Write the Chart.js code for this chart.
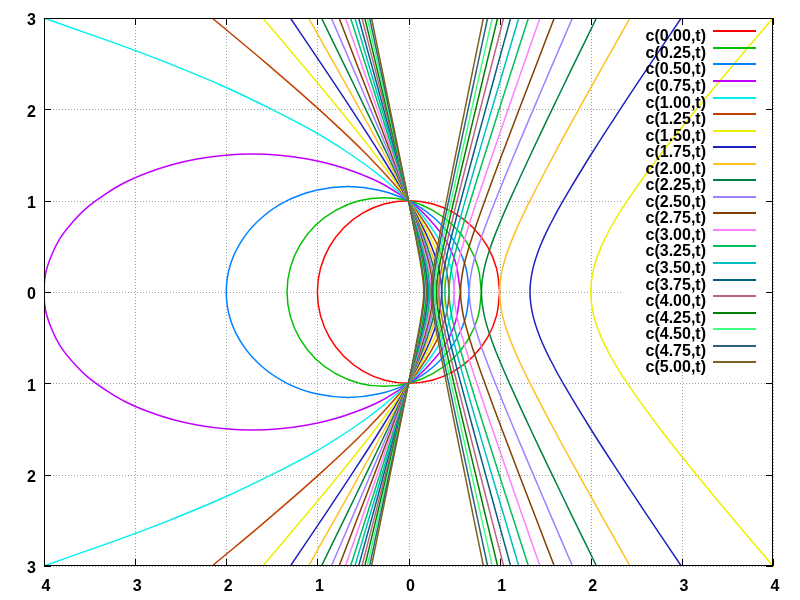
<!DOCTYPE html>
<html>
<head>
<meta charset="utf-8">
<script src="https://cdn.jsdelivr.net/npm/chart.js@4"></script>
<style>
  body { margin: 0; background: #fff; }
  canvas { display: block; }
</style>
</head>
<body>
<canvas id="chart" width="800" height="600"></canvas>
<script>
// parameter of each curve c(a,t), as listed in the key
const params = [0, 0.25, 0.5, 0.75, 1, 1.25, 1.5, 1.75, 2, 2.25, 2.5, 2.75, 3, 3.25, 3.5, 3.75, 4, 4.25, 4.5, 4.75, 5];

const xTicks = [-4, -3, -2, -1, 0, 1, 2, 3, 4];
const yTicks = [-3, -2, -1, 0, 1, 2, 3];

// closed curves (a < 1), [x, y] points read around each loop
const loop000 = [[1,0],[0.966,0.259],[0.866,0.5],[0.707,0.707],[0.5,0.866],[0.259,0.966],[0,1],[-0.259,0.966],[-0.5,0.866],[-0.707,0.707],[-0.866,0.5],[-0.966,0.259],[-1,0],
  [-0.966,-0.259],[-0.866,-0.5],[-0.707,-0.707],[-0.5,-0.866],[-0.259,-0.966],[0,-1],[0.259,-0.966],[0.5,-0.866],[0.707,-0.707],[0.866,-0.5],[0.966,-0.259],[1,0]];
const loop025 = [[0.8,0],[0.764,0.267],[0.657,0.516],[0.488,0.73],[0.267,0.894],[0.009,0.998],[-0.267,1.033],[-0.543,0.998],[-0.8,0.894],[-1.021,0.73],[-1.19,0.516],[-1.297,0.267],[-1.333,0],
  [-1.297,-0.267],[-1.19,-0.516],[-1.021,-0.73],[-0.8,-0.894],[-0.543,-0.998],[-0.267,-1.033],[0.009,-0.998],[0.267,-0.894],[0.488,-0.73],[0.657,-0.516],[0.764,-0.267],[0.8,0]];
const loop050 = [[0.667,0],[0.621,0.299],[0.488,0.577],[0.276,0.816],[0,1],[-0.322,1.115],[-0.667,1.155],[-1.012,1.115],[-1.333,1],[-1.609,0.816],[-1.821,0.577],[-1.955,0.299],[-2,0],
  [-1.955,-0.299],[-1.821,-0.577],[-1.609,-0.816],[-1.333,-1],[-1.012,-1.115],[-0.667,-1.155],[-0.322,-1.115],[0,-1],[0.276,-0.816],[0.488,-0.577],[0.621,-0.299],[0.667,0]];
const loop075 = [[0.571,0],[0.494,0.391],[0.265,0.756],[-0.098,1.069],[-0.571,1.309],[-1.123,1.46],[-1.714,1.512],[-2.306,1.46],[-2.857,1.309],[-3.33,1.069],[-3.694,0.756],[-3.922,0.391],[-4,0],
  [-3.922,-0.391],[-3.694,-0.756],[-3.33,-1.069],[-2.857,-1.309],[-2.306,-1.46],[-1.714,-1.512],[-1.123,-1.46],[-0.571,-1.309],[-0.098,-1.069],[0.265,-0.756],[0.494,-0.391],[0.571,0]];

// open curves (a >= 1): x read at these heights
const ySamples = [3, 2.5, 2, 1.5, 1, 0.75, 0.5, 0.25, 0, -0.25, -0.5, -0.75, -1, -1.5, -2, -2.5, -3];

const arc100 = [-4,-2.625,-1.5,-0.625,0,0.219,0.375,0.469,0.5,0.469,0.375,0.219,0,-0.625,-1.5,-2.625,-4];

// branch through (0,1) and (0,-1)
const near125 = [-2.155,-1.556,-0.983,-0.454,0,0.183,0.324,0.413,0.444,0.413,0.324,0.183,0,-0.454,-0.983,-1.556,-2.155];
const near150 = [-1.6,-1.175,-0.76,-0.362,0,0.156,0.284,0.369,0.4,0.369,0.284,0.156,0,-0.362,-0.76,-1.175,-1.6];
const near175 = [-1.296,-0.959,-0.626,-0.303,0,0.136,0.252,0.333,0.364,0.333,0.252,0.136,0,-0.303,-0.626,-0.959,-1.296];
const near200 = [-1.097,-0.815,-0.535,-0.261,0,0.12,0.226,0.303,0.333,0.303,0.226,0.12,0,-0.261,-0.535,-0.815,-1.097];
const near225 = [-0.955,-0.711,-0.469,-0.23,0,0.108,0.204,0.278,0.308,0.278,0.204,0.108,0,-0.23,-0.469,-0.711,-0.955];
const near250 = [-0.847,-0.631,-0.417,-0.206,0,0.098,0.187,0.257,0.286,0.257,0.187,0.098,0,-0.206,-0.417,-0.631,-0.847];
const near275 = [-0.762,-0.569,-0.376,-0.186,0,0.089,0.171,0.238,0.267,0.238,0.171,0.089,0,-0.186,-0.376,-0.569,-0.762];
const near300 = [-0.693,-0.518,-0.343,-0.17,0,0.082,0.159,0.222,0.25,0.222,0.159,0.082,0,-0.17,-0.343,-0.518,-0.693];
const near325 = [-0.636,-0.475,-0.315,-0.156,0,0.076,0.147,0.208,0.235,0.208,0.147,0.076,0,-0.156,-0.315,-0.475,-0.636];
const near350 = [-0.588,-0.44,-0.292,-0.145,0,0.071,0.138,0.195,0.222,0.195,0.138,0.071,0,-0.145,-0.292,-0.44,-0.588];
const near375 = [-0.547,-0.409,-0.272,-0.135,0,0.066,0.129,0.184,0.211,0.184,0.129,0.066,0,-0.135,-0.272,-0.409,-0.547];
const near400 = [-0.511,-0.382,-0.254,-0.126,0,0.062,0.121,0.174,0.2,0.174,0.121,0.062,0,-0.126,-0.254,-0.382,-0.511];
const near425 = [-0.48,-0.359,-0.239,-0.119,0,0.058,0.115,0.165,0.19,0.165,0.115,0.058,0,-0.119,-0.239,-0.359,-0.48];
const near450 = [-0.452,-0.338,-0.225,-0.112,0,0.055,0.109,0.157,0.182,0.157,0.109,0.055,0,-0.112,-0.225,-0.338,-0.452];
const near475 = [-0.427,-0.32,-0.213,-0.106,0,0.052,0.103,0.149,0.174,0.149,0.103,0.052,0,-0.106,-0.213,-0.32,-0.427];
const near500 = [-0.406,-0.304,-0.202,-0.101,0,0.05,0.098,0.142,0.167,0.142,0.098,0.05,0,-0.101,-0.202,-0.304,-0.406];

// branch opening to the right
const far150 = [4,3.575,3.16,2.762,2.4,2.244,2.117,2.031,2,2.031,2.117,2.244,2.4,2.762,3.16,3.575,4];
const far175 = [2.993,2.656,2.323,2,1.697,1.561,1.445,1.364,1.333,1.364,1.445,1.561,1.697,2,2.323,2.656,2.993];
const far200 = [2.431,2.148,1.869,1.595,1.333,1.213,1.108,1.03,1,1.03,1.108,1.213,1.333,1.595,1.869,2.148,2.431];
const far225 = [2.063,1.818,1.576,1.338,1.108,1,0.903,0.83,0.8,0.83,0.903,1,1.108,1.338,1.576,1.818,2.063];
const far250 = [1.799,1.584,1.37,1.158,0.952,0.855,0.766,0.696,0.667,0.696,0.766,0.855,0.952,1.158,1.37,1.584,1.799];
const far275 = [1.6,1.407,1.215,1.024,0.838,0.749,0.667,0.6,0.571,0.6,0.667,0.749,0.838,1.024,1.215,1.407,1.6];
const far300 = [1.443,1.268,1.093,0.92,0.75,0.668,0.592,0.528,0.5,0.528,0.592,0.668,0.75,0.92,1.093,1.268,1.443];
const far325 = [1.316,1.155,0.995,0.836,0.68,0.604,0.532,0.472,0.444,0.472,0.532,0.604,0.68,0.836,0.995,1.155,1.316];
const far350 = [1.21,1.062,0.914,0.767,0.622,0.552,0.485,0.427,0.4,0.427,0.485,0.552,0.622,0.767,0.914,1.062,1.21];
const far375 = [1.121,0.983,0.846,0.709,0.574,0.508,0.445,0.39,0.364,0.39,0.445,0.508,0.574,0.709,0.846,0.983,1.121];
const far400 = [1.044,0.916,0.787,0.66,0.533,0.472,0.412,0.36,0.333,0.36,0.412,0.472,0.533,0.66,0.787,0.916,1.044];
const far425 = [0.978,0.857,0.737,0.617,0.498,0.44,0.384,0.333,0.308,0.333,0.384,0.44,0.498,0.617,0.737,0.857,0.978];
const far450 = [0.92,0.806,0.693,0.58,0.468,0.412,0.359,0.311,0.286,0.311,0.359,0.412,0.468,0.58,0.693,0.806,0.92];
const far475 = [0.868,0.761,0.654,0.547,0.441,0.388,0.338,0.291,0.267,0.291,0.338,0.388,0.441,0.547,0.654,0.761,0.868];
const far500 = [0.822,0.72,0.619,0.517,0.417,0.367,0.319,0.274,0.25,0.274,0.319,0.367,0.417,0.517,0.619,0.72,0.822];

const colors = ['#ff0000','#00c000','#0080ff','#c000ff','#00eeee','#c04000','#eeee00','#2020c0','#ffc020','#008040',
  '#a080ff','#804000','#ff80ff','#00c060','#00c0c0','#006080','#c06080','#008000','#40ff80','#306080','#806020'];

function pairs(list) { return list.map(p => ({ x: p[0], y: p[1] })); }
function atHeights(xs) { return xs.map((x, i) => ({ x: x, y: ySamples[i] })); }

const pieces = [
  [pairs(loop000)], [pairs(loop025)], [pairs(loop050)], [pairs(loop075)],
  [atHeights(arc100)], [atHeights(near125)],
  [atHeights(near150), atHeights(far150)], [atHeights(near175), atHeights(far175)],
  [atHeights(near200), atHeights(far200)], [atHeights(near225), atHeights(far225)],
  [atHeights(near250), atHeights(far250)], [atHeights(near275), atHeights(far275)],
  [atHeights(near300), atHeights(far300)], [atHeights(near325), atHeights(far325)],
  [atHeights(near350), atHeights(far350)], [atHeights(near375), atHeights(far375)],
  [atHeights(near400), atHeights(far400)], [atHeights(near425), atHeights(far425)],
  [atHeights(near450), atHeights(far450)], [atHeights(near475), atHeights(far475)],
  [atHeights(near500), atHeights(far500)]
];

let datasets = [];
pieces.forEach((parts, i) => {
  parts.forEach(data => {
    datasets.push({
      label: 'c(' + params[i].toFixed(2) + ',t)',
      data: data,
      showLine: true,
      borderColor: colors[i],
      borderWidth: 1.5,
      pointRadius: 0,
      tension: 0.4,
      fill: false,
      order: params.length - i
    });
  });
});

const keyBox = { left: 623, top: 22, right: 766, bottom: 369 };

const gnuFrame = {
  id: 'gnuFrame',
  beforeDatasetsDraw(chart) {
    let ctx = chart.ctx, a = chart.chartArea, sx = chart.scales.x, sy = chart.scales.y;
    ctx.save();
    ctx.strokeStyle = '#a0a0a0';
    ctx.lineWidth = 1;
    ctx.setLineDash([1, 2]);
    ctx.beginPath();
    xTicks.forEach(v => {
      let px = Math.round(sx.getPixelForValue(v)) + 0.5;
      ctx.moveTo(px, a.top); ctx.lineTo(px, a.bottom);
    });
    yTicks.forEach(v => {
      let py = Math.round(sy.getPixelForValue(v)) + 0.5;
      ctx.moveTo(a.left, py); ctx.lineTo(a.right, py);
    });
    ctx.stroke();
    ctx.setLineDash([]);
    // grid stays out of the key
    ctx.fillStyle = '#fff';
    ctx.fillRect(keyBox.left, keyBox.top, keyBox.right - keyBox.left, keyBox.bottom - keyBox.top);
    ctx.restore();
  },
  afterDatasetsDraw(chart) {
    let ctx = chart.ctx, a = chart.chartArea, sx = chart.scales.x, sy = chart.scales.y;
    ctx.save();
    ctx.strokeStyle = '#000';
    ctx.lineWidth = 1;
    ctx.strokeRect(a.left + 0.5, a.top + 0.5, a.width - 1, a.height - 1);
    ctx.beginPath();
    xTicks.forEach(v => {
      let px = Math.round(sx.getPixelForValue(v)) + 0.5;
      ctx.moveTo(px, a.bottom); ctx.lineTo(px, a.bottom - 7);
      ctx.moveTo(px, a.top); ctx.lineTo(px, a.top + 7);
    });
    yTicks.forEach(v => {
      let py = Math.round(sy.getPixelForValue(v)) + 0.5;
      ctx.moveTo(a.left, py); ctx.lineTo(a.left + 7, py);
      ctx.moveTo(a.right, py); ctx.lineTo(a.right - 7, py);
    });
    ctx.stroke();

    // key: label on the left, line sample on the right
    ctx.font = 'bold 16px "Liberation Sans", Arial, sans-serif';
    ctx.textAlign = 'right';
    ctx.textBaseline = 'alphabetic';
    params.forEach((p, i) => {
      let ly = Math.round(31.3 + 16.55 * i);
      ctx.fillStyle = '#000';
      ctx.fillText('c(' + p.toFixed(2) + ',t)', 706, ly + 10);
      ctx.strokeStyle = colors[i];
      ctx.lineWidth = 2;
      ctx.beginPath();
      ctx.moveTo(713, ly); ctx.lineTo(756, ly);
      ctx.stroke();
    });
    ctx.restore();
  }
};

Chart.defaults.font.family = '"Liberation Sans", Arial, sans-serif';
Chart.defaults.font.size = 16;
Chart.defaults.font.weight = 'bold';
Chart.defaults.color = '#000';

new Chart(document.getElementById('chart'), {
  type: 'scatter',
  data: { datasets: datasets },
  options: {
    responsive: false,
    animation: false,
    devicePixelRatio: 1,
    layout: { padding: { top: 18, right: 27, left: 0, bottom: 0 } },
    elements: { line: { capBezierPoints: false } },
    plugins: { legend: { display: false }, tooltip: { enabled: false } },
    scales: {
      x: {
        type: 'linear', min: -4, max: 4,
        afterBuildTicks: s => { s.ticks = xTicks.map(v => ({ value: v })); },
        afterFit: s => { s.height = 34; },
        ticks: { callback: v => Math.abs(v), padding: 11, labelOffset: 2, maxRotation: 0, autoSkip: false },
        grid: { display: false, drawTicks: false },
        border: { display: false }
      },
      y: {
        type: 'linear', min: -3, max: 3,
        afterBuildTicks: s => { s.ticks = yTicks.map(v => ({ value: v })); },
        afterFit: s => { s.width = 44; },
        ticks: { callback: v => Math.abs(v), padding: 8, labelOffset: 3, autoSkip: false },
        grid: { display: false, drawTicks: false },
        border: { display: false }
      }
    }
  },
  plugins: [gnuFrame]
});
</script>
</body>
</html>
